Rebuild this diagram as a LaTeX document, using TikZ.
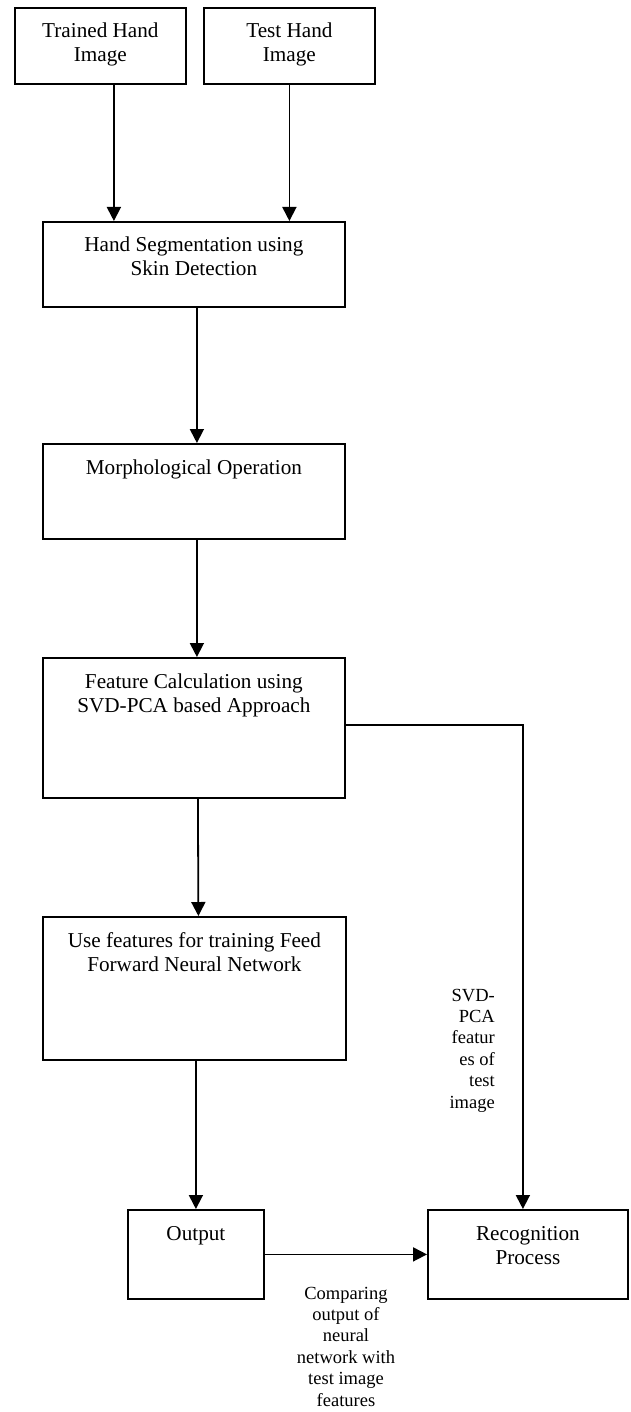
\documentclass[tikz,border=0pt]{standalone}
\usepackage{fontspec}
\setmainfont{Liberation Serif}
\usetikzlibrary{arrows.meta,calc}
\begin{document}
\begin{tikzpicture}[x=1pt,y=-1pt,
  box/.style={draw, line width=1.8pt, inner sep=0pt, anchor=north west},
  boxtext/.style={anchor=base, inner sep=0pt, font=\fontsize{21.2}{24}\selectfont},
  lab/.style={inner sep=0pt, font=\fontsize{18.5}{21.4}\selectfont},
  arr/.style={line width=1.8pt, -{Triangle[length=14pt,width=14pt]}}]
\useasboundingbox (0,0) rectangle (631,1412);

% boxes
\node[box, minimum width=171pt, minimum height=76pt] (trained) at (14,7) {};
\node[box, minimum width=171pt, minimum height=76pt] (test) at (203,7) {};
\node[box, minimum width=302pt, minimum height=85pt] (seg) at (42,221) {};
\node[box, minimum width=302pt, minimum height=95pt] (morph) at (42,443) {};
\node[box, minimum width=302pt, minimum height=140pt] (feature) at (42,657) {};
\node[box, minimum width=303pt, minimum height=143pt] (use) at (42,916) {};
\node[box, minimum width=136pt, minimum height=89pt] (output) at (127,1209) {};
\node[box, minimum width=200pt, minimum height=89pt] (recog) at (427,1209) {};

% box texts
\node[boxtext] (trainedt) at ($(trained.north)+(0,31)$) {\parbox[t]{165pt}{\centering Trained Hand\\Image}};
\node[boxtext] (testt) at ($(test.north)+(0,31)$) {\parbox[t]{165pt}{\centering Test Hand\\Image}};
\node[boxtext] (segt) at ($(seg.north)+(0,31)$) {\parbox[t]{295pt}{\centering Hand Segmentation using\\Skin Detection}};
\node[boxtext] (morpht) at ($(morph.north)+(0,31)$) {\parbox[t]{295pt}{\centering Morphological Operation}};
\node[boxtext] (featuret) at ($(feature.north)+(0,31)$) {\parbox[t]{295pt}{\centering Feature Calculation using\\SVD-PCA based Approach}};
\node[boxtext] (uset) at ($(use.north)+(0,31)$) {\parbox[t]{298pt}{\centering Use features for training Feed\\Forward Neural Network}};
\node[boxtext] (outputt) at ($(output.north)+(0,31)$) {\parbox[t]{130pt}{\centering Output}};
\node[boxtext] (recogt) at ($(recog.north)+(0,31)$) {\parbox[t]{190pt}{\centering Recognition\\Process}};

% labels
\node[lab, anchor=base east] (svdlab) at (495,1001) {\parbox[t]{70pt}{\raggedleft SVD-\\PCA\\featur\\es of\\test\\image}};
\node[lab, anchor=base] (cmplab) at (346,1299) {\parbox[t]{120pt}{\centering Comparing\\output of\\neural\\network with\\test image\\features}};

% connectors
\draw[arr] ([xshift=13.5pt]trained.south) -- ([xshift=13.5pt]trained.south |- seg.north);
\draw[arr] (test.south) -- (test.south |- seg.north);
\draw[arr] ([xshift=3pt]seg.south) -- ([xshift=3pt]morph.north);
\draw[arr] ([xshift=3pt]morph.south) -- ([xshift=3pt]feature.north);
\draw[arr] ([xshift=4pt]feature.south) -- ([xshift=4pt]use.north);
\draw[arr] (output.north |- use.south) -- (output.north);
\draw[arr] ([yshift=3pt]feature.east) -| ([xshift=-5pt]recog.north);
\draw[arr] (output.east) -- (output.east -| recog.west);
\end{tikzpicture}
\end{document}
